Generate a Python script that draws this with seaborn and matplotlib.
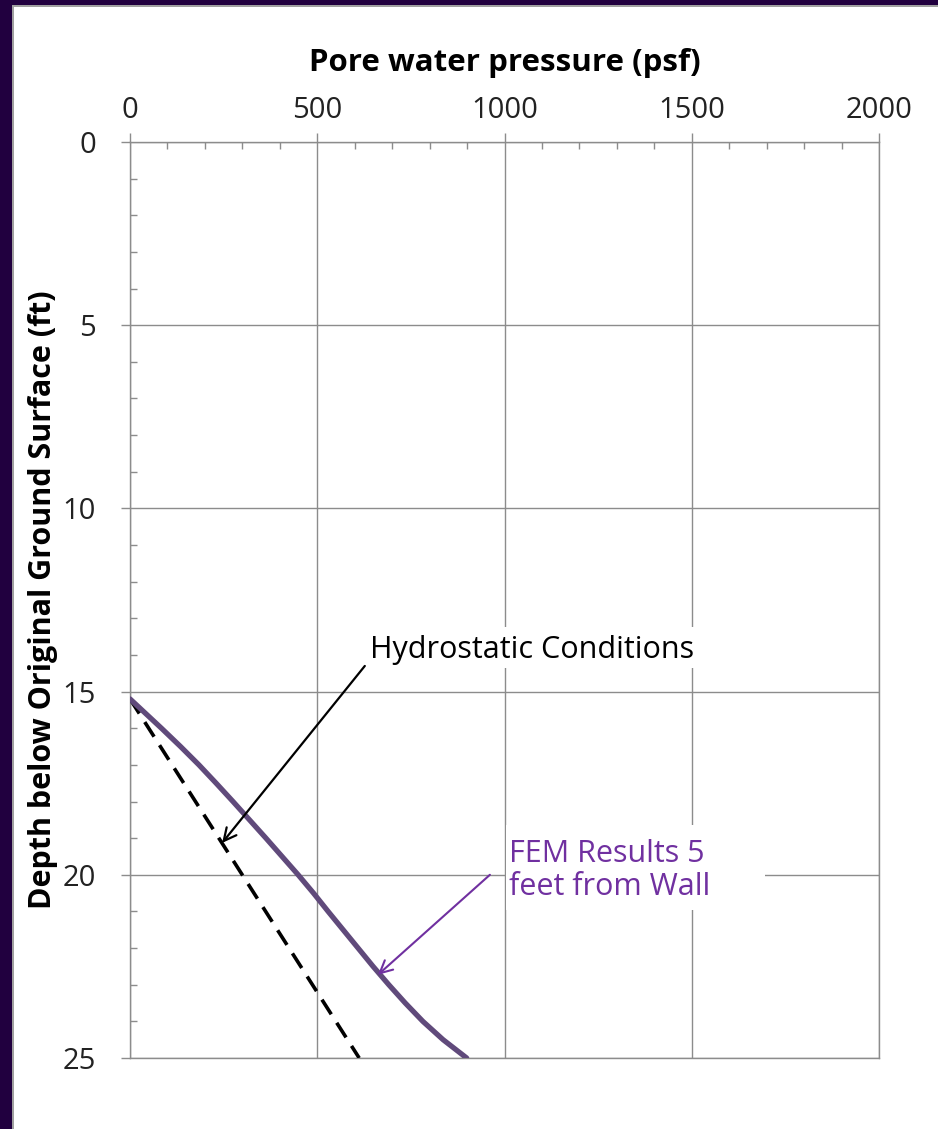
import matplotlib
matplotlib.use("Agg")
import matplotlib.pyplot as plt
from matplotlib.patches import Rectangle
from matplotlib.ticker import MultipleLocator
import pandas as pd
import seaborn as sns

# Depth (ft) and pore water pressure (psf)
fem_depth = [15.2, 16, 16.5, 17, 17.5, 18, 18.5, 19, 19.5, 20, 20.5,
             21, 21.5, 22, 22.5, 23, 23.5, 24, 24.5, 25]
fem_pressure = [0, 84, 135, 184, 230, 275, 319, 363, 406, 449, 490,
                529, 569, 609, 649, 691, 735, 782, 836, 899]
hydro_depth = [15.2, 25]
hydro_pressure = [0, 612]

x_ticks = [0, 500, 1000, 1500, 2000]
y_ticks = [0, 5, 10, 15, 20, 25]

sns.set_style("white")
plt.rcParams["font.family"] = ["Open Sans", "DejaVu Sans"]

fig = plt.figure(figsize=(9.38, 11.29), dpi=100)
fig.patch.set_facecolor("white")

# Slide frame: dark strip on the left and top edges
frame = "#21003f"
fig.patches.append(Rectangle((0, 0), 12 / 938, 1, transform=fig.transFigure,
                             facecolor=frame, edgecolor="none", zorder=0))
fig.patches.append(Rectangle((12 / 938, 0), 2 / 938, 1 - 5 / 1129, transform=fig.transFigure,
                             facecolor="#a0a0a0", edgecolor="none", zorder=0))
fig.patches.append(Rectangle((0, 1 - 5 / 1129), 1, 5 / 1129, transform=fig.transFigure,
                             facecolor=frame, edgecolor="none", zorder=0))
fig.patches.append(Rectangle((14 / 938, 1 - 7 / 1129), 1, 2 / 1129, transform=fig.transFigure,
                             facecolor="#a0a0a0", edgecolor="none", zorder=0))

ax = fig.add_axes([130 / 938, 1 - 1058 / 1129, 749 / 938, 916 / 1129])

fem = pd.DataFrame({"pressure": fem_pressure, "depth": fem_depth})
hydro = pd.DataFrame({"pressure": hydro_pressure, "depth": hydro_depth})

sns.lineplot(data=hydro, x="pressure", y="depth", sort=False, ax=ax,
             color="black", linewidth=2.6, zorder=4)
ax.lines[-1].set_dashes((4.8, 2.8))
sns.lineplot(data=fem, x="pressure", y="depth", sort=False, ax=ax,
             color="#604a7b", linewidth=3.8, zorder=5)
ax.lines[-1].set_solid_joinstyle("round")

ax.set_xlim(0, 2000)
ax.set_ylim(25, 0)
ax.xaxis.tick_top()
ax.xaxis.set_label_position("top")
ax.set_xticks(x_ticks)
ax.set_yticks(y_ticks)
ax.xaxis.set_minor_locator(MultipleLocator(100))
ax.yaxis.set_minor_locator(MultipleLocator(1))

grid_col = "#8c8c8c"
ax.grid(True, which="major", color=grid_col, linewidth=1.0, zorder=1)
ax.set_axisbelow(True)
for s in ax.spines.values():
    s.set_color(grid_col)
    s.set_linewidth(1.0)

ax.tick_params(axis="both", which="major", direction="out", length=6.5,
               width=1.0, color=grid_col, labelsize=21, labelcolor="#222222")
ax.tick_params(axis="both", which="minor", direction="in", length=5,
               width=1.0, color=grid_col)
ax.tick_params(axis="x", which="both", top=True, bottom=False)
ax.tick_params(axis="y", which="both", left=True, right=False)
ax.tick_params(axis="x", which="major", pad=6)
ax.tick_params(axis="y", which="major", pad=18)

ax.set_xlabel("Pore water pressure (psf)", fontsize=22.5, fontweight="bold",
              labelpad=18, color="black")
ax.set_ylabel("Depth below Original Ground Surface (ft)", fontsize=22,
              fontweight="bold", labelpad=3, color="black")

# Callout boxes hide the gridlines behind their labels
ax.add_patch(Rectangle((627, 13.24), 895, 1.12, facecolor="white",
                       edgecolor="none", zorder=2))
ax.add_patch(Rectangle((1004, 18.64), 692, 2.32, facecolor="white",
                       edgecolor="none", zorder=2))

arrow_style = "->,head_length=0.9,head_width=0.45"

ax.text(640, 13.87, "Hydrostatic Conditions", fontsize=22, color="black",
        ha="left", va="center", zorder=6)
ax.annotate("", xy=(246, 19.13), xytext=(627, 14.30), zorder=6,
            arrowprops=dict(arrowstyle=arrow_style, color="black",
                            linewidth=1.6, shrinkA=0, shrinkB=0))

fem_col = "#7030a0"
ax.text(1012, 19.88, "FEM Results 5\nfeet from Wall", fontsize=22,
        color=fem_col, ha="left", va="center", linespacing=1.12, zorder=6)
ax.annotate("", xy=(662, 22.73), xytext=(961, 20.0), zorder=6,
            arrowprops=dict(arrowstyle=arrow_style, color=fem_col,
                            linewidth=1.5, shrinkA=0, shrinkB=0))

fig.savefig("out.png", dpi=100, facecolor="white")
